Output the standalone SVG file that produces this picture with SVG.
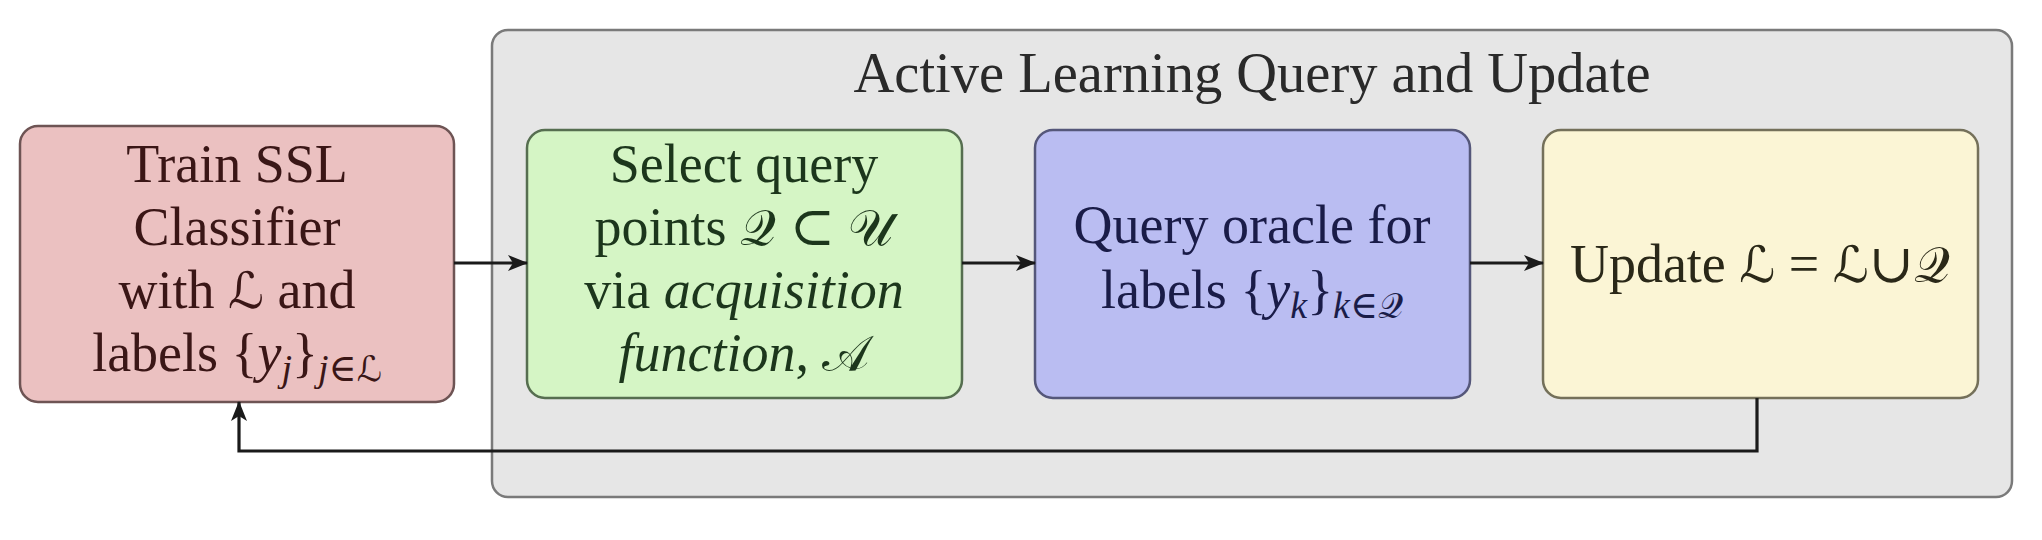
<svg xmlns="http://www.w3.org/2000/svg" width="2042" height="540" viewBox="0 0 2042 540">
<style>
  text { font-family: "Liberation Serif", "DejaVu Serif", serif; font-size: 54px; text-anchor: middle; }
  .title { font-size: 56.5px; }
  .it { font-style: italic; }
  .cal { font-family: "DejaVu Serif", "DejaVu Sans", serif; font-style: normal; font-size: 50px; }
  .sub { font-size: 38px; }
  .subcal { font-family: "DejaVu Serif", "DejaVu Sans", serif; font-size: 35px; }
  .box { stroke-width: 2.5; }
  .conn { fill: none; stroke: #1a1a1a; stroke-width: 3.2; }
</style>
<defs>
  <marker id="arrow" viewBox="0 0 20 16" refX="19" refY="8" markerWidth="20" markerHeight="16" markerUnits="userSpaceOnUse" orient="auto">
    <path d="M0,0 L20,8 L0,16 L5,8 Z" fill="#1a1a1a"/>
  </marker>
</defs>
<rect width="2042" height="540" fill="#ffffff"/>

<g id="container">
  <rect x="492" y="30" width="1520" height="467" rx="16" fill="#e6e6e6" stroke="#7a7a7a" stroke-width="2.5"/>
  <text class="title" x="1252" y="92" fill="#2a2a2a">Active Learning Query and Update</text>
</g>

<g id="train">
  <rect class="box" x="20" y="126" width="434" height="276" rx="18" fill="#ebc1c1" stroke="#6e5454"/>
  <text x="237" y="182" fill="#3a1616">Train SSL</text>
  <text x="237" y="245" fill="#3a1616">Classifier</text>
  <text x="237" y="308" fill="#3a1616">with <tspan class="cal">ℒ</tspan> and</text>
  <text x="237" y="371" fill="#3a1616">labels {<tspan class="it">y</tspan><tspan class="it sub" dy="10">j</tspan><tspan dy="-10">}</tspan><tspan class="it sub" dy="10">j</tspan><tspan class="sub">∈</tspan><tspan class="subcal">ℒ</tspan></text>
</g>

<g id="select">
  <rect class="box" x="527" y="130" width="435" height="268" rx="18" fill="#d5f5c5" stroke="#566e50"/>
  <text x="744" y="182" fill="#1c361c">Select query</text>
  <text x="744" y="245" fill="#1c361c">points <tspan class="cal">𝒬</tspan> ⊂ <tspan class="cal">𝒰</tspan></text>
  <text x="744" y="308" fill="#1c361c">via <tspan class="it">acquisition</tspan></text>
  <text x="744" y="371" fill="#1c361c"><tspan class="it">function</tspan>, <tspan class="cal">𝒜</tspan></text>
</g>

<g id="oracle">
  <rect class="box" x="1035" y="130" width="435" height="268" rx="18" fill="#babdf2" stroke="#55577a"/>
  <text x="1252" y="243" fill="#1a1c48">Query oracle for</text>
  <text x="1252" y="308" fill="#1a1c48">labels {<tspan class="it">y</tspan><tspan class="it sub" dy="10">k</tspan><tspan dy="-10">}</tspan><tspan class="it sub" dy="10">k</tspan><tspan class="sub">∈</tspan><tspan class="subcal">𝒬</tspan></text>
</g>

<g id="update">
  <rect class="box" x="1543" y="130" width="435" height="268" rx="18" fill="#fbf5d5" stroke="#74705a"/>
  <text x="1760" y="282" fill="#2a2818">Update <tspan class="cal">ℒ</tspan> = <tspan class="cal">ℒ</tspan>∪<tspan class="cal">𝒬</tspan></text>
</g>

<g id="connectors">
  <line class="conn" x1="454" y1="263" x2="527" y2="263" marker-end="url(#arrow)"/>
  <line class="conn" x1="962" y1="263" x2="1035" y2="263" marker-end="url(#arrow)"/>
  <line class="conn" x1="1470" y1="263" x2="1543" y2="263" marker-end="url(#arrow)"/>
  <polyline class="conn" points="1757,398 1757,451 239,451 239,402" marker-end="url(#arrow)"/>
</g>
</svg>
